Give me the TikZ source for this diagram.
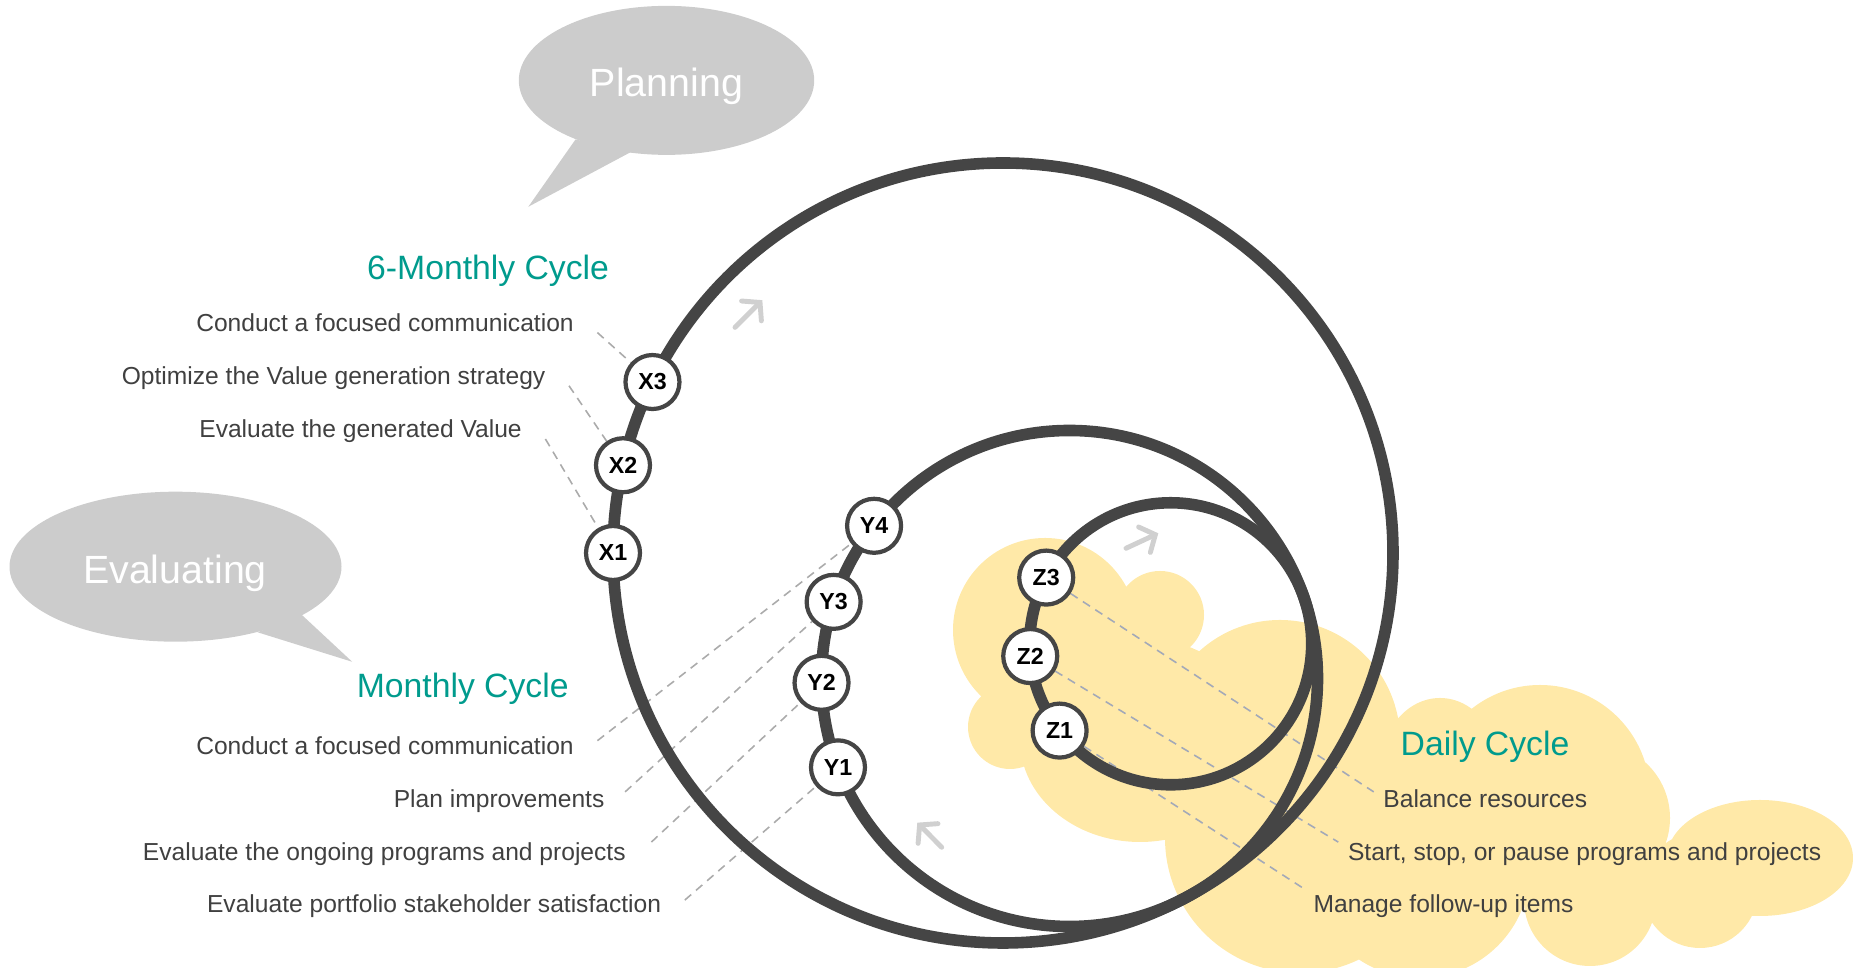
\documentclass[tikz,border=0pt]{standalone}
\usepackage{fontspec}
\setmainfont{Liberation Sans}
\usetikzlibrary{arrows.meta}

\definecolor{curva}{HTML}{454545}
\definecolor{verde}{HTML}{009B8D}
\definecolor{testo}{HTML}{404040}
\definecolor{fumetto}{HTML}{CCCCCC}
\definecolor{giallo}{HTML}{FFE9A8}
\definecolor{freccia}{HTML}{D0D0D0}
\definecolor{tratto}{HTML}{ABABAB}
\definecolor{trattoz}{HTML}{A3A9B8}

\pgfdeclarelayer{fondo}
\pgfdeclarelayer{linee}
\pgfsetlayers{fondo,linee,main}

\tikzset{
  tappa/.style={circle, draw=curva, line width=1.2pt, fill=white, inner sep=0pt,
    minimum size=0.54cm, font=\fontsize{6.6}{7}\selectfont\bfseries},
  voce/.style={inner sep=0pt, text=testo, font=\fontsize{7}{8}\selectfont,
    text height=5pt, text depth=0pt},
  titolo/.style={inner sep=0pt, text=verde, font=\fontsize{9.6}{11}\selectfont,
    text height=6.9pt, text depth=0pt},
  bolla/.style={inner sep=0pt, text=white, font=\fontsize{11.2}{13}\selectfont,
    text height=8pt, text depth=0pt},
  ciclo/.style={draw=curva, line width=3.3pt},
  guida/.style={draw=tratto, line width=0.45pt, dash pattern=on 2.4pt off 1.8pt},
  verso/.style={draw=freccia, line width=1.4pt, line cap=round,
    -{Straight Barb[length=1.2mm, width=2.8mm, line cap=round]}}
}

\begin{document}
\begin{tikzpicture}
  \useasboundingbox (0,0) rectangle (18.53,9.68);

  % --- centri dei cicli ---
  \coordinate (c6) at (10.03,4.15);
  \coordinate (cm) at (10.695,2.895);
  \coordinate (cd) at (11.707,3.242);

  % --- nuvola ---
  \begin{pgfonlayer}{fondo}
  \fill[giallo] (10.45,3.38) circle (0.92)
                (11.60,3.53) circle (0.44)
                (12.80,2.28) circle (1.20)
                (14.40,1.98) ellipse (0.60 and 0.72)
                (15.40,1.73) circle (1.10)
                (15.95,1.50) circle (0.75)
                (17.60,1.10) ellipse (0.93 and 0.58)
                (17.00,0.78) circle (0.58)
                (15.90,0.68) circle (0.66)
                (14.20,1.00) circle (1.10)
                (10.10,2.41) circle (0.42)
                (11.40,2.28) ellipse (1.20 and 1.02)
                (13.00,1.30) circle (1.35);
  \end{pgfonlayer}

  % --- fumetti ---
  \fill[fumetto] (6.665,8.876) ellipse (1.477 and 0.745);
  \fill[fumetto] (5.755,8.285) -- (5.283,7.612) -- (6.323,8.167) -- cycle;
  \node[bolla] (plan) at (6.665,8.853) {Planning};

  \fill[fumetto] (1.755,4.013) ellipse (1.66 and 0.75);
  \fill[fumetto] (3.014,3.535) -- (3.522,3.062) -- (2.576,3.357) -- cycle;
  \node[bolla] (eval) at (1.75,3.984) {Evaluating};

  % --- tappe ---
  \node[tappa] (x1) at ([shift={(180:3.9)}]c6) {X1};
  \node[tappa] (x2) at ([shift={(167:3.9)}]c6) {X2};
  \node[tappa] (x3) at ([shift={(154:3.9)}]c6) {X3};

  \node[tappa] (y1) at ([shift={(201:2.48)}]cm) {Y1};
  \node[tappa] (y2) at ([shift={(181:2.48)}]cm) {Y2};
  \node[tappa] (y3) at ([shift={(162:2.48)}]cm) {Y3};
  \node[tappa] (y4) at ([shift={(142:2.48)}]cm) {Y4};

  \node[tappa] (z1) at ([shift={(218:1.41)}]cd) {Z1};
  \node[tappa] (z2) at ([shift={(185:1.41)}]cd) {Z2};
  \node[tappa] (z3) at ([shift={(152:1.41)}]cd) {Z3};

  % --- testi ---
  \node[titolo] (t6) at (4.881,7.01) {6-Monthly Cycle};
  \node[voce, anchor=east] (tx3) at (5.744,6.454) {Conduct a focused communication};
  \node[voce, anchor=east] (tx2) at (5.46,5.922) {Optimize the Value generation strategy};
  \node[voce, anchor=east] (tx1) at (5.224,5.39) {Evaluate the generated Value};

  \node[titolo] (tm) at (4.627,2.825) {Monthly Cycle};
  \node[voce, anchor=east] (ty4) at (5.744,2.223) {Conduct a focused communication};
  \node[voce, anchor=east] (ty3) at (6.051,1.691) {Plan improvements};
  \node[voce, anchor=east] (ty2) at (6.264,1.159) {Evaluate the ongoing programs and projects};
  \node[voce, anchor=east] (ty1) at (6.618,0.639) {Evaluate portfolio stakeholder satisfaction};

  \node[titolo] (td) at (14.85,2.246) {Daily Cycle};
  \node[voce, anchor=west] (tz3) at (13.827,1.691) {Balance resources};
  \node[voce, anchor=west] (tz2) at (13.473,1.159) {Start, stop, or pause programs and projects};
  \node[voce, anchor=west] (tz1) at (13.13,0.639) {Manage follow-up items};

  % --- tratteggi e cicli ---
  \begin{pgfonlayer}{linee}
  \draw[guida] ([shift={(0.23,-0.1)}]tx3.east) -- (x3);
  \draw[guida] ([shift={(0.23,-0.1)}]tx2.east) -- (x2);
  \draw[guida] ([shift={(0.23,-0.1)}]tx1.east) -- (x1);

  \draw[guida] ([shift={(0.23,0.05)}]ty4.east) -- (y4);
  \draw[guida] ([shift={(0.20,0.07)}]ty3.east) -- (y3);
  \draw[guida] ([shift={(0.25,0.10)}]ty2.east) -- (y2);
  \draw[guida] ([shift={(0.23,0.04)}]ty1.east) -- (y1);

  \draw[guida, trattoz] (z3) -- ([shift={(-0.09,0.07)}]tz3.west);
  \draw[guida, trattoz] (z2) -- ([shift={(-0.09,0.10)}]tz2.west);
  \draw[guida, trattoz] (z1) -- ([shift={(-0.10,0.16)}]tz1.west);

  \draw[ciclo] (c6) circle (3.9);
  \draw[ciclo] (cm) circle (2.48);
  \draw[ciclo] (cd) circle (1.41);
  \end{pgfonlayer}

  % --- versi di percorrenza ---
  \draw[verso] (7.35,6.406) -- (7.623,6.678);
  \draw[verso] (11.26,4.197) -- (11.583,4.347);
  \draw[verso] (9.417,1.207) -- (9.173,1.453);
\end{tikzpicture}
\end{document}
